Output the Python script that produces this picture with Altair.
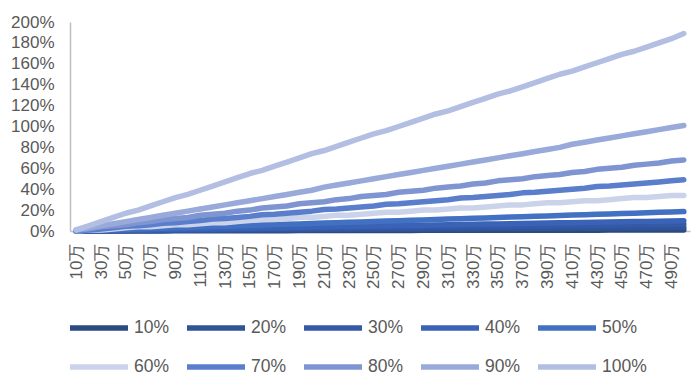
import altair as alt
import pandas as pd

categories = [f"{v}万" for v in range(10, 510, 10)]
label_values = [f"{v}万" for v in range(10, 510, 20)]
y_ticks = [0, 20, 40, 60, 80, 100, 120, 140, 160, 180, 200]

series_names = ["10%", "20%", "30%", "40%", "50%", "60%", "70%", "80%", "90%", "100%"]
colors = ["#2b4a82", "#2f5597", "#3459a6", "#3a62b6", "#4270c2",
          "#cbd3ea", "#5a7ecb", "#7e95d2", "#98a9da", "#b2bfe3"]

s10 = [0, 0, 0, 0.1, 0.1, 0.1, 0.1, 0.1, 0.2, 0.2, 0.2, 0.2, 0.2, 0.3, 0.3, 0.3, 0.3, 0.3, 0.4, 0.4,
       0.4, 0.4, 0.4, 0.5, 0.5, 0.5, 0.5, 0.5, 0.6, 0.6, 0.6, 0.6, 0.6, 0.7, 0.7, 0.7, 0.7, 0.7, 0.8, 0.8,
       0.8, 0.8, 0.8, 0.9, 0.9, 0.9, 0.9, 0.9, 1.0, 1.0]
s20 = [0, 0.1, 0.1, 0.2, 0.3, 0.4, 0.4, 0.5, 0.6, 0.6, 0.7, 0.8, 0.8, 0.9, 1.0, 1.1, 1.1, 1.2, 1.3, 1.3,
       1.4, 1.5, 1.5, 1.6, 1.7, 1.8, 1.8, 1.9, 2.0, 2.0, 2.1, 2.2, 2.2, 2.3, 2.4, 2.5, 2.5, 2.6, 2.7, 2.7,
       2.8, 2.9, 2.9, 3.0, 3.1, 3.2, 3.2, 3.3, 3.4, 3.4]
s30 = [0, 0.1, 0.3, 0.4, 0.5, 0.7, 0.8, 0.9, 1.0, 1.2, 1.3, 1.4, 1.6, 1.7, 1.8, 2.0, 2.1, 2.2, 2.3, 2.5,
       2.6, 2.7, 2.9, 3.0, 3.1, 3.3, 3.4, 3.5, 3.6, 3.8, 3.9, 4.0, 4.2, 4.3, 4.4, 4.6, 4.7, 4.8, 4.9, 5.1,
       5.2, 5.3, 5.5, 5.6, 5.7, 5.9, 6.0, 6.1, 6.2, 6.4]
s40 = [0, 0.2, 0.4, 0.6, 0.8, 1.0, 1.2, 1.4, 1.6, 1.8, 2.0, 2.2, 2.4, 2.6, 2.8, 3.0, 3.2, 3.4, 3.6, 3.8,
       4.0, 4.2, 4.4, 4.6, 4.8, 5.0, 5.2, 5.4, 5.6, 5.8, 6.0, 6.2, 6.4, 6.6, 6.8, 7.0, 7.2, 7.4, 7.6, 7.8,
       8.0, 8.2, 8.4, 8.6, 8.8, 9.0, 9.2, 9.4, 9.6, 9.8]
s50 = [0, 0.4, 0.8, 1.1, 1.5, 1.9, 2.3, 2.7, 3.0, 3.4, 3.8, 4.2, 4.6, 4.9, 5.3, 5.7, 6.1, 6.5, 6.8, 7.2,
       7.6, 8.0, 8.4, 8.7, 9.1, 9.5, 9.9, 10.3, 10.6, 11.0, 11.4, 11.8, 12.2, 12.5, 12.9, 13.3, 13.7, 14.1, 14.4, 14.8,
       15.2, 15.6, 16.0, 16.3, 16.7, 17.1, 17.5, 17.9, 18.2, 18.6]
s60 = [0, 1, 1, 2, 3, 4, 4, 5, 6, 6, 7, 8, 8, 9, 10, 11, 11, 12, 13, 13,
       14, 15, 15, 16, 17, 18, 18, 19, 20, 20, 21, 22, 22, 23, 24, 25, 25, 26, 27, 27,
       28, 29, 29, 30, 31, 32, 32, 33, 34, 34]
s70 = [0, 1, 2, 3, 4.5, 5, 6, 7.5, 8, 9, 10, 11.5, 12, 13, 14, 15.5, 16, 17, 18, 19,
       20.5, 21, 22, 23, 24, 25.5, 26, 27, 28, 29, 30, 31.5, 32, 33, 34, 35, 36.5, 37, 38, 39,
       40, 41, 42.5, 43, 44, 45, 46, 47, 48, 49]
s80 = [1, 2, 4, 5, 6, 8, 9, 11, 12, 13, 15, 16, 17, 19, 20, 22, 23, 24, 26, 27,
       28, 30, 31, 33, 34, 35, 37, 38, 39, 41, 42, 43, 45, 46, 48, 49, 50, 52, 53, 54,
       56, 57, 59, 60, 61, 63, 64, 65, 67, 68]
s90 = [1, 3, 5, 7, 9, 11, 13, 15, 17, 19, 21, 23, 25, 27, 29, 31, 33, 35, 37, 39,
       42, 44, 46, 48, 50, 52, 54, 56, 58, 60, 62, 64, 66, 68, 70, 72, 74, 76, 78, 80,
       83, 85, 87, 89, 91, 93, 95, 97, 99, 101]
s100 = [1, 5, 9, 13, 17, 20, 24, 28, 32, 35, 39, 43, 47, 51, 55, 58, 62, 66, 70, 74,
        77, 81, 85, 89, 93, 96, 100, 104, 108, 112, 115, 119, 123, 127, 131, 134, 138, 142, 146, 150,
        153, 157, 161, 165, 169, 172, 176, 180, 184, 189]

series_values = [s10, s20, s30, s40, s50, s60, s70, s80, s90, s100]

rows = []
for i, (name, vals) in enumerate(zip(series_names, series_values)):
    for c, v in zip(categories, vals):
        rows.append({"cat": c, "series": name, "value": v, "k": i})
df = pd.DataFrame(rows)

FONT = "Liberation Sans"
GRAY = "#595959"

chart = alt.Chart(df).mark_line(
    strokeWidth=5.5, strokeCap="round", strokeJoin="round"
).encode(
    x=alt.X("cat:O", sort=categories, title=None,
            scale=alt.Scale(type="point", padding=0.5),
            axis=alt.Axis(values=label_values, labelAngle=270, labelFontSize=17,
                          labelFont=FONT, labelColor=GRAY, ticks=False,
                          labelPadding=12, domainColor="#bfbfbf", domainWidth=1.5,
                          grid=False, labelOverlap=False)),
    y=alt.Y("value:Q", title=None,
            scale=alt.Scale(domain=[0, 200], nice=False),
            axis=alt.Axis(values=y_ticks, labelExpr="datum.value + '%'", labelFontSize=17,
                          labelFont=FONT, labelColor=GRAY, ticks=False, labelPadding=16,
                          domainColor="#bfbfbf", domainWidth=1.5, grid=False)),
    color=alt.Color("series:N", sort=series_names,
                    scale=alt.Scale(domain=series_names, range=colors),
                    legend=alt.Legend(title=None, orient="none", legendX=-3, legendY=296,
                                      direction="horizontal", columns=5,
                                      symbolType="stroke", symbolSize=3364,
                                      symbolStrokeWidth=5.5, clipHeight=20,
                                      labelFontSize=17.5, labelFont=FONT, labelColor=GRAY,
                                      labelOffset=3, columnPadding=14, rowPadding=19,
                                      symbolOpacity=1)),
    order=alt.Order("k:Q"),
).properties(
    width=620, height=209,
    autosize=alt.AutoSizeParams(type="none"),
    padding={"left": 62, "top": 14, "right": 1, "bottom": 148},
).configure_view(stroke=None)

chart.save("out.html", embed_options={"renderer": "svg", "actions": False})
